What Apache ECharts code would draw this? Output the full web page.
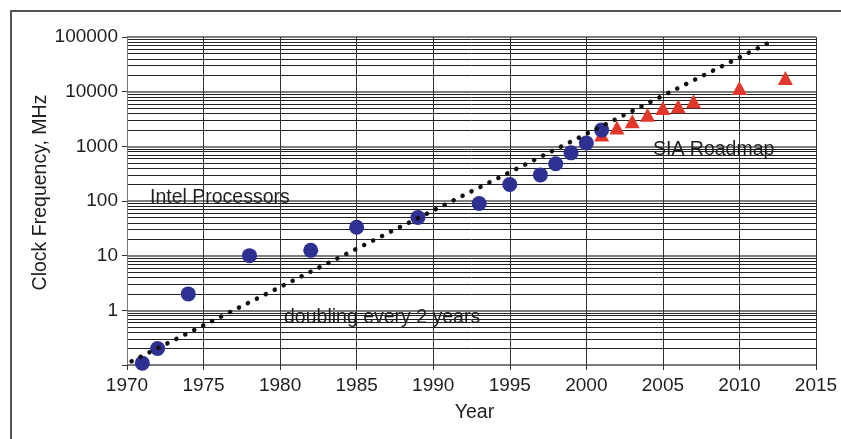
<!DOCTYPE html>
<html>
<head>
<meta charset="utf-8">
<script src="https://cdn.jsdelivr.net/npm/echarts@6/dist/echarts.min.js"></script>
<style>
html,body{margin:0;padding:0;background:#fff;}
#chart{width:841px;height:439px;}
</style>
</head>
<body>
<div id="chart"></div>
<script>
// Data
const intelYears = [1971, 1972, 1974, 1978, 1982, 1985, 1989, 1993, 1995, 1997, 1998, 1999, 2000, 2001];
const intelMHz   = [0.108, 0.2, 2, 10, 12.5, 33, 50, 90, 200, 300, 480, 760, 1150, 2000];
const siaYears = [2001, 2002, 2003, 2004, 2005, 2006, 2007, 2010, 2013];
const siaMHz   = [1650, 2200, 2870, 3800, 5000, 5400, 6700, 11700, 17800];
const trendYears = [1970.3, 2012.2];
const trendMHz   = [0.117, 86000];
const yTickLabels = ['1', '10', '100', '1000', '10000', '100000'];

const FONT = '"Liberation Sans", Arial, Helvetica, sans-serif';
const TXT = '#1e1e1e';

const chart = echarts.init(document.getElementById('chart'), null, {renderer: 'canvas'});
const zip = (xs, ys) => xs.map((x, i) => [x, ys[i]]);

chart.setOption({
  animation: false,
  backgroundColor: '#fff',
  grid: {left: 127, right: 25, top: 37, bottom: 74, containLabel: false},
  xAxis: {
    type: 'value', min: 1970, max: 2015, interval: 5,
    axisLine: {show: true, lineStyle: {color: '#777', width: 1}},
    axisTick: {show: true, length: 5, lineStyle: {color: '#333'}},
    axisLabel: {color: TXT, fontSize: 19, fontFamily: FONT, margin: 11,
      formatter: function (v) { return String(v); }},
    splitLine: {show: true, lineStyle: {color: '#333', width: 1}}
  },
  yAxis: {
    type: 'log', logBase: 10, min: 0.1, max: 100000,
    axisLine: {show: true, lineStyle: {color: '#777', width: 1}},
    axisTick: {show: true, length: 5, lineStyle: {color: '#333'}},
    axisLabel: {
      color: TXT, fontSize: 19, fontFamily: FONT, margin: 9,
      formatter: function (v) {
        const s = String(Math.round(v));
        return yTickLabels.indexOf(s) >= 0 && v >= 1 ? s : '';
      }
    },
    splitLine: {show: true, lineStyle: {color: '#555', width: 1.5}},
    minorTick: {show: false, splitNumber: 9},
    minorSplitLine: {show: true, lineStyle: {color: '#222', width: 1}}
  },
  series: [
    {
      name: 'SIA Roadmap', type: 'scatter', data: zip(siaYears, siaMHz),
      symbol: 'triangle', symbolSize: [15, 14],
      itemStyle: {color: '#e2382c', opacity: 1}, z: 2
    },
    {
      name: 'Intel Processors', type: 'scatter', data: zip(intelYears, intelMHz),
      symbol: 'circle', symbolSize: 15,
      itemStyle: {color: '#2e3192', opacity: 1}, z: 3
    },
    {
      name: 'doubling every 2 years', type: 'line', data: zip(trendYears, trendMHz),
      showSymbol: false, symbol: 'none',
      lineStyle: {color: '#111', width: 4.5, type: [0.1, 9.9], cap: 'round'},
      z: 4, silent: true
    }
  ],
  graphic: [
    {type: 'rect', shape: {x: 11, y: 11, width: 900, height: 500},
     style: {fill: 'none', stroke: '#555', lineWidth: 2}, z: 0, silent: true},
    {type: 'text', x: 41, y: 192.5, rotation: Math.PI / 2,
     style: {text: 'Clock Frequency, MHz', fill: TXT, font: '19.5px ' + FONT, textAlign: 'center', textVerticalAlign: 'middle'}},
    {type: 'text', x: 474.5, y: 413,
     style: {text: 'Year', fill: TXT, font: '19.5px ' + FONT, textAlign: 'center', textVerticalAlign: 'middle'}},
    {type: 'text', x: 150, y: 197.5, z: 10,
     style: {text: 'Intel Processors', fill: TXT, font: '19.5px ' + FONT, textAlign: 'left', textVerticalAlign: 'middle'}},
    {type: 'text', x: 653, y: 150, z: 10,
     style: {text: 'SIA Roadmap', fill: TXT, font: '19.5px ' + FONT, textAlign: 'left', textVerticalAlign: 'middle'}},
    {type: 'text', x: 284, y: 317.5, z: 10,
     style: {text: 'doubling every 2 years', fill: TXT, font: '19.5px ' + FONT, textAlign: 'left', textVerticalAlign: 'middle'}}
  ]
});
</script>
</body>
</html>
